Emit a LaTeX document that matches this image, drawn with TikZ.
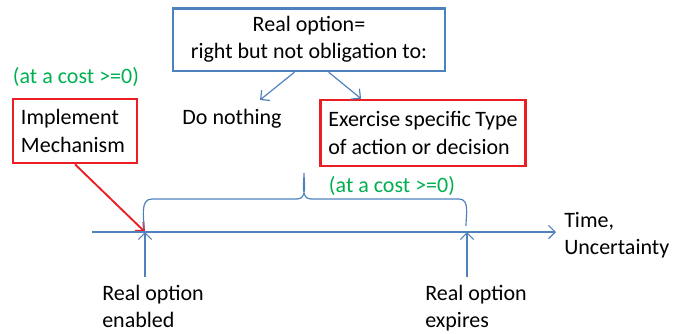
\documentclass[tikz,border=0pt]{standalone}
\usepackage{fontspec}
\setmainfont{Carlito}
\usetikzlibrary{arrows.meta}
\definecolor{optblue}{RGB}{79,129,189}
\definecolor{optred}{RGB}{235,30,36}
\definecolor{optgreen}{RGB}{0,176,80}

\begin{document}
\begin{tikzpicture}[x=0.75pt,y=-0.75pt,font=\fontsize{16.5}{20.5}\selectfont,
    bluearr/.style={draw=optblue,line width=0.9pt,-{Straight Barb[length=5pt,width=10pt]}},
    redarr/.style={draw=optred,line width=1.4pt,-{Straight Barb[length=5pt,width=9pt]}}]
  \useasboundingbox (0,0) rectangle (679,333);

  \begin{scope}[every node/.style={draw,line width=2pt,inner sep=0pt}]
    \node[draw=optblue,minimum width=204pt,minimum height=47pt,align=center] (ro) at (309,39.5) {Real option=\\right but not obligation to:};
    \node[draw=optred,minimum height=49.5pt,text width=142pt,inner xsep=6pt,align=flush left] (ex) at (423,133) {Exercise specific Type\\of action or decision};
    \node[draw=optred,minimum height=48pt,text width=81pt,inner xsep=6pt,align=flush left] (im) at (75,131) {Implement\\Mechanism};
  \end{scope}

  \begin{scope}[every node/.style={inner sep=0pt}]
    \node (dn) at (232,119) {Do nothing};
    \node[text=optgreen] (c1) at (76,77) {(at a cost >=0)};
    \node[text=optgreen] (c2) at (392,186) {(at a cost >=0)};
    \node[anchor=west,align=flush left] (tm) at (564,235) {Time,\\Uncertainty};
    \node[anchor=north west,align=flush left] (enl) at (102,285) {Real option\\enabled};
    \node[anchor=north west,align=flush left] (exl) at (425,285) {Real option\\expires};
  \end{scope}

  \coordinate (tl0) at (92,232);
  \coordinate (tl1) at (556,232);
  \coordinate (enb) at (145,232);
  \coordinate (exp) at (467,232);
  \coordinate (enb0) at (145,277);
  \coordinate (exp0) at (467,277);
  \coordinate (dnt) at (260,100);

  \draw[bluearr] (ro.-114) -- (dnt);
  \draw[bluearr] (ro.-59) -- (ex.151);
  \draw[redarr] (im.south) -- (enb);
  \draw[bluearr] (tl0) -- (tl1);
  \draw[bluearr] (enb0) -- (enb);
  \draw[bluearr] (exp0) -- (exp);

  \draw[optblue,line width=0.9pt] (144,229) to[out=90,in=180] (152,199) -- (297,199)
    to[out=0,in=-90] (304,173) to[out=-90,in=180] (311,199) -- (459,199) to[out=0,in=90] (466,226);

\end{tikzpicture}
\end{document}
